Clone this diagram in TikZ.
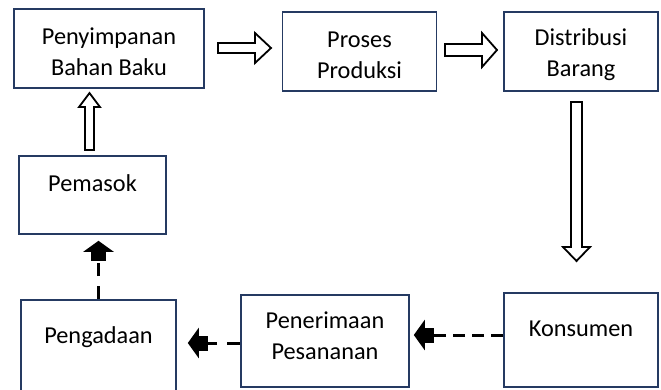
\documentclass[tikz,border=0pt]{standalone}
\usepackage{fontspec}
\setmainfont{Carlito}
\usetikzlibrary{arrows.meta,calc}
\definecolor{boxBlue}{RGB}{37,58,98}
\newcommand{\hstrut}{\rule{0pt}{24pt}}
\newcommand{\dstrut}[1]{\rule[-#1]{0pt}{#1}}

\begin{document}
\begin{tikzpicture}[x=1pt,y=-1pt,
    box/.style={draw=boxBlue,line width=1.6pt,fill=white,align=center,inner sep=0pt,
      font=\fontsize{24.3}{31}\selectfont},
    hollow/.style={draw=black,fill=white,line width=1.8pt,line join=miter},
    dasharrow/.style={line width=3pt,dash pattern=on 13pt off 10pt,
      -{Rectangle[length=9pt,width=15pt]Triangle[length=11pt,width=30pt]}}]
    \useasboundingbox (0,0) rectangle (661,389);

    \node[box,minimum width=190pt,minimum height=79pt] (simpan) at (109,48.5) {\hstrut Penyimpanan\\Bahan Baku};
    \node[box,minimum width=154pt,minimum height=79pt] (proses) at (359.5,51.5) {\hstrut Proses\\Produksi};
    \node[box,minimum width=154pt,minimum height=79pt] (distribusi) at (581,51.5) {\hstrut Distribusi\\Barang};
    \node[box,minimum width=147pt,minimum height=78pt] (pemasok) at (92.5,195) {\hstrut Pemasok\\~};
    \node[box,minimum width=155pt,minimum height=94pt] (pengadaan) at (98.5,347) {\hstrut Pengadaan\\~};
    \node[box,minimum width=168pt,minimum height=92pt] (terima) at (325,341) {\hstrut Penerimaan\\Pesananan\dstrut{19pt}};
    \node[box,minimum width=154pt,minimum height=94pt] (konsumen) at (581,340) {\hstrut Konsumen\\~};

    % hollow block arrows
    \draw[hollow] (218,43) -- (255,43) -- (255,33) -- (271,48) -- (255,63) -- (255,53) -- (218,53) -- cycle;
    \draw[hollow] (445,44) -- (482,44) -- (482,33) -- (497,50) -- (482,67) -- (482,56) -- (445,56) -- cycle;
    \draw[hollow] (571,102) -- (582,102) -- (582,247) -- (590,247) -- (576.5,261) -- (563,247) -- (571,247) -- cycle;
    \draw[hollow] (85,150) -- (85,107) -- (79,107) -- (89.5,93) -- (100,107) -- (94,107) -- (94,150) -- cycle;

    % dashed arrows
    \draw[dasharrow,shorten >=6pt] (pengadaan.north) -- (pengadaan.north |- pemasok.south);
    \draw[dasharrow,shorten >=11pt] ([yshift=-2pt]terima.west) -- ([yshift=-2pt]terima.west -| pengadaan.east);
    \draw[dasharrow,shorten >=4pt,dash pattern=on 12pt off 7pt] ([yshift=5pt]konsumen.west) -- ([yshift=5pt]konsumen.west -| terima.east);
\end{tikzpicture}
\end{document}
